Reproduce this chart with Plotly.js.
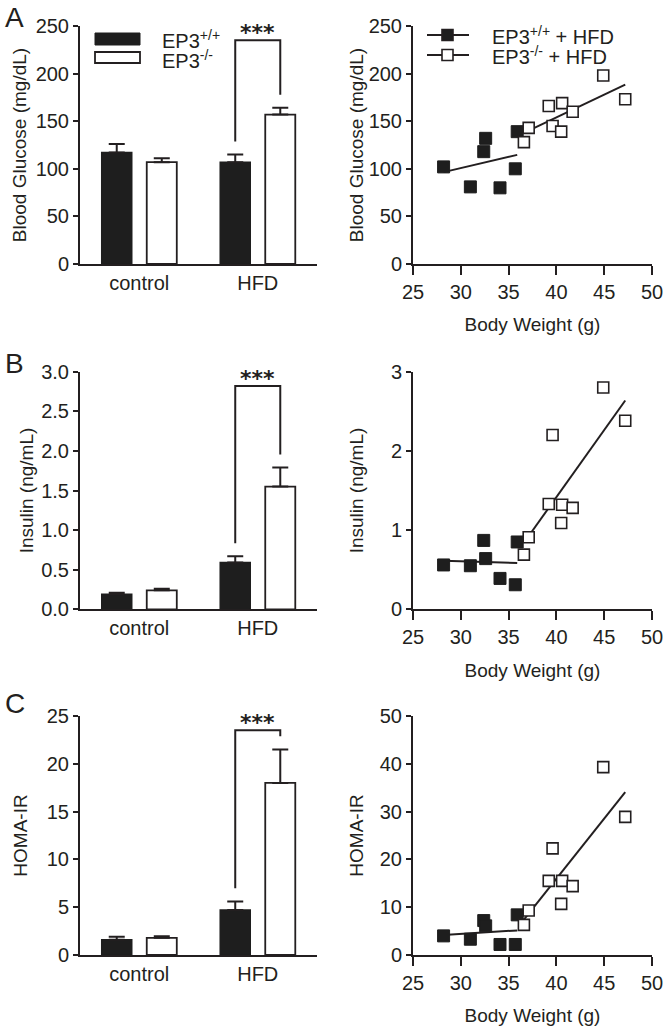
<!DOCTYPE html>
<html>
<head>
<meta charset="utf-8">
<script src="https://cdn.plot.ly/plotly-3.0.1.min.js"></script>
<style>
  html, body { margin: 0; padding: 0; background: #fff; }
  #fig { width: 663px; height: 1029px; }
</style>
</head>
<body>
<div id="fig"></div>
<script>
// group labels for the bar charts
const groups = ["control", "HFD"];

// bar means and SEM (upper error only)
const glucoseWT = [117, 107];
const glucoseWTerr = [9, 8];
const glucoseKO = [107, 157];
const glucoseKOerr = [4, 7];

const insulinWT = [0.19, 0.59];
const insulinWTerr = [0.02, 0.08];
const insulinKO = [0.24, 1.55];
const insulinKOerr = [0.02, 0.24];

const homaWT = [1.6, 4.7];
const homaWTerr = [0.3, 0.9];
const homaKO = [1.8, 18.0];
const homaKOerr = [0.15, 3.5];

// individual mice on HFD: body weight vs measures
const weightWT = [28.2, 31.0, 32.4, 32.6, 34.1, 35.7, 35.9];
const glucWT = [102, 81, 118, 132, 80, 100, 139];
const insWT = [0.56, 0.55, 0.87, 0.64, 0.39, 0.31, 0.85];
const homWT = [4.0, 3.3, 7.2, 6.1, 2.2, 2.2, 8.4];

const weightKO = [36.6, 37.1, 39.2, 39.6, 40.6, 40.5, 41.7, 44.9, 47.2];
const glucKO = [128, 143, 166, 145, 169, 139, 160, 198, 173];
const insKO = [0.69, 0.91, 1.33, 2.20, 1.32, 1.09, 1.28, 2.80, 2.38];
const homKO = [6.3, 9.3, 15.5, 22.3, 15.5, 10.7, 14.4, 39.3, 28.9];

const W = 663, H = 1029;
const ink = "#231f20";
const FONT = "Liberation Sans, Arial, sans-serif";

function xd(a, b) { return [a / W, b / W]; }
function yd(top, bottom) { return [1 - bottom / H, 1 - top / H]; }
function px(x) { return x / W; }
function py(y) { return 1 - y / H; }

// least squares line over the x range of the data
function fit(xs, ys) {
  let n = xs.length;
  let mx = xs.reduce((a, b) => a + b, 0) / n;
  let my = ys.reduce((a, b) => a + b, 0) / n;
  let sxy = 0, sxx = 0;
  for (let i = 0; i < n; i++) {
    sxy += (xs[i] - mx) * (ys[i] - my);
    sxx += (xs[i] - mx) * (xs[i] - mx);
  }
  let b = sxy / sxx;
  let x0 = Math.min(...xs), x1 = Math.max(...xs);
  return { x: [x0, x1], y: [my + b * (x0 - mx), my + b * (x1 - mx)] };
}

let traces = [];

function barPair(ax, wt, wtErr, ko, koErr) {
  traces.push({
    type: "bar", x: groups, y: wt, xaxis: "x" + ax, yaxis: "y" + ax,
    marker: { color: "#1e1e1e", line: { color: "#1e1e1e", width: 1.5 } },
    error_y: { type: "data", symmetric: false, array: wtErr, arrayminus: [0, 0],
               color: ink, thickness: 2, width: 8 },
    showlegend: false, hoverinfo: "skip"
  });
  traces.push({
    type: "bar", x: groups, y: ko, xaxis: "x" + ax, yaxis: "y" + ax,
    marker: { color: "#ffffff", line: { color: ink, width: 1.8 } },
    error_y: { type: "data", symmetric: false, array: koErr, arrayminus: [0, 0],
               color: ink, thickness: 2, width: 8 },
    showlegend: false, hoverinfo: "skip"
  });
}

function scatterPair(ax, yWT, yKO) {
  let f1 = fit(weightWT, yWT);
  let f2 = fit(weightKO, yKO);
  [f1, f2].forEach(f => traces.push({
    type: "scatter", mode: "lines", x: f.x, y: f.y, xaxis: "x" + ax, yaxis: "y" + ax,
    line: { color: ink, width: 2 }, showlegend: false, hoverinfo: "skip"
  }));
  traces.push({
    type: "scatter", mode: "markers", x: weightWT, y: yWT, xaxis: "x" + ax, yaxis: "y" + ax,
    marker: { symbol: "square", size: 12, color: "#1e1e1e", line: { color: "#1e1e1e", width: 1 } },
    showlegend: false, hoverinfo: "skip"
  });
  traces.push({
    type: "scatter", mode: "markers", x: weightKO, y: yKO, xaxis: "x" + ax, yaxis: "y" + ax,
    marker: { symbol: "square", size: 11, color: "#ffffff", line: { color: ink, width: 1.6 } },
    showlegend: false, hoverinfo: "skip"
  });
}

barPair("", glucoseWT, glucoseWTerr, glucoseKO, glucoseKOerr);
scatterPair("2", glucWT, glucKO);
barPair("3", insulinWT, insulinWTerr, insulinKO, insulinKOerr);
scatterPair("4", insWT, insKO);
barPair("5", homaWT, homaWTerr, homaKO, homaKOerr);
scatterPair("6", homWT, homKO);

const tickFont = { family: FONT, size: 20, color: ink };
const titleFont = { family: FONT, size: 19, color: ink };

function barX(dom, anchor) {
  return {
    domain: dom, anchor: anchor, type: "category", range: [-0.5, 1.5],
    showline: true, linewidth: 2, linecolor: ink, ticks: "",
    tickfont: tickFont, showgrid: false, zeroline: false
  };
}
function valY(dom, anchor, range, dtick, title, fmt, standoff) {
  return {
    domain: dom, anchor: anchor, range: range, dtick: dtick, tick0: 0,
    tickformat: fmt || "", showline: true, linewidth: 2, linecolor: ink,
    ticks: "outside", ticklen: 5, tickwidth: 2, tickcolor: ink, tickfont: tickFont,
    showgrid: false, zeroline: false,
    title: { text: title, font: titleFont, standoff: standoff }
  };
}
function weightX(dom, anchor) {
  return {
    domain: dom, anchor: anchor, range: [25, 50], dtick: 5, tick0: 25,
    showline: true, linewidth: 2, linecolor: ink, ticks: "outside", ticklen: 9,
    tickwidth: 2, tickcolor: ink, tickfont: tickFont, showgrid: false, zeroline: false,
    ticklabeloverflow: "allow",
    title: { text: "Body Weight (g)", font: titleFont, standoff: 16 }
  };
}

const L = xd(80, 317), R = xd(413, 652);
const rowA = yd(26, 264), rowB = yd(371.7, 609.3), rowC = yd(716, 955);

let layout = {
  width: W, height: H,
  margin: { l: 0, r: 0, t: 0, b: 0 },
  paper_bgcolor: "#fff", plot_bgcolor: "rgba(0,0,0,0)",
  font: { family: FONT, color: ink },
  barmode: "group", bargap: 0.24, bargroupgap: 0.333,
  showlegend: false,
  xaxis: barX(L, "y"),
  yaxis: valY(rowA, "x", [0, 250], 50, "Blood Glucose (mg/dL)", "", 4),
  xaxis2: weightX(R, "y2"),
  yaxis2: valY(rowA, "x2", [0, 250], 50, "Blood Glucose (mg/dL)", "", 0),
  xaxis3: barX(L, "y3"),
  yaxis3: valY(rowB, "x3", [0, 3], 0.5, "Insulin (ng/mL)", ".1f", 3),
  xaxis4: weightX(R, "y4"),
  yaxis4: valY(rowB, "x4", [0, 3], 1, "Insulin (ng/mL)", "", 22),
  xaxis5: barX(L, "y5"),
  yaxis5: valY(rowC, "x5", [0, 25], 5, "HOMA-IR", "", 14),
  xaxis6: weightX(R, "y6"),
  yaxis6: valY(rowC, "x6", [0, 50], 10, "HOMA-IR", "", 11),
  shapes: [],
  annotations: []
};

// significance brackets over the HFD bars
const slot = (1 - layout.bargap) / 2;
function bracket(ax, wt, wtErr, ko, koErr, ymax) {
  let xl = 1 - slot / 2, xr = 1 + slot / 2;
  let pad = 0.055 * ymax, top = 0.94 * ymax;
  let yl = wt[1] + wtErr[1] + pad, yr = ko[1] + koErr[1] + pad;
  let xr_ = "x" + ax, yr_ = "y" + ax;
  let line = { color: ink, width: 2 };
  layout.shapes.push({ type: "path", xref: xr_, yref: yr_, line: line,
    path: `M ${xl},${yl} L ${xl},${top} L ${xr},${top} L ${xr},${yr}` });
  layout.annotations.push({ xref: xr_, yref: yr_, x: 1, y: top, text: "<b>***</b>",
    showarrow: false, yanchor: "bottom", yshift: -7, font: { family: "DejaVu Sans", size: 22, color: ink } });
}
bracket("", glucoseWT, glucoseWTerr, glucoseKO, glucoseKOerr, 250);
bracket("3", insulinWT, insulinWTerr, insulinKO, insulinKOerr, 3);
bracket("5", homaWT, homaWTerr, homaKO, homaKOerr, 25);

// panel letters
[["A", 0, "top"], ["B", 364, "middle"], ["C", 703, "middle"]].forEach(p => layout.annotations.push({
  xref: "paper", yref: "paper", x: px(3), y: py(p[1]), text: p[0], showarrow: false,
  xanchor: "left", yanchor: p[2], font: { family: FONT, size: 28, color: ink }
}));

// legend for bar panel A
layout.shapes.push({ type: "rect", xref: "paper", yref: "paper",
  x0: px(95), x1: px(140), y0: py(33), y1: py(45), fillcolor: "#1e1e1e", line: { color: "#1e1e1e", width: 1 } });
layout.shapes.push({ type: "rect", xref: "paper", yref: "paper",
  x0: px(95), x1: px(140), y0: py(52), y1: py(63), fillcolor: "#fff", line: { color: ink, width: 1.8 } });
[["EP3<sup>+/+</sup>", 40], ["EP3<sup>-/-</sup>", 60]].forEach(t => layout.annotations.push({
  xref: "paper", yref: "paper", x: px(160), y: py(t[1]), text: t[0], showarrow: false,
  xanchor: "left", yanchor: "middle", font: { family: FONT, size: 20, color: ink }
}));

// legend for scatter panel A
[[35, "#1e1e1e", "EP3<sup>+/+</sup> + HFD"], [55, "#fff", "EP3<sup>-/-</sup> + HFD"]].forEach(r => {
  layout.shapes.push({ type: "line", xref: "paper", yref: "paper",
    x0: px(427), x1: px(469), y0: py(r[0]), y1: py(r[0]), line: { color: ink, width: 2 } });
  layout.shapes.push({ type: "rect", xref: "paper", yref: "paper",
    x0: px(442), x1: px(453), y0: py(r[0] - 5.5), y1: py(r[0] + 5.5),
    fillcolor: r[1], line: { color: ink, width: 1.6 } });
  layout.annotations.push({ xref: "paper", yref: "paper", x: px(490), y: py(r[0]), text: r[2],
    showarrow: false, xanchor: "left", yanchor: "middle", font: { family: FONT, size: 20, color: ink } });
});

Plotly.newPlot("fig", traces, layout, { staticPlot: true });
</script>
</body>
</html>
